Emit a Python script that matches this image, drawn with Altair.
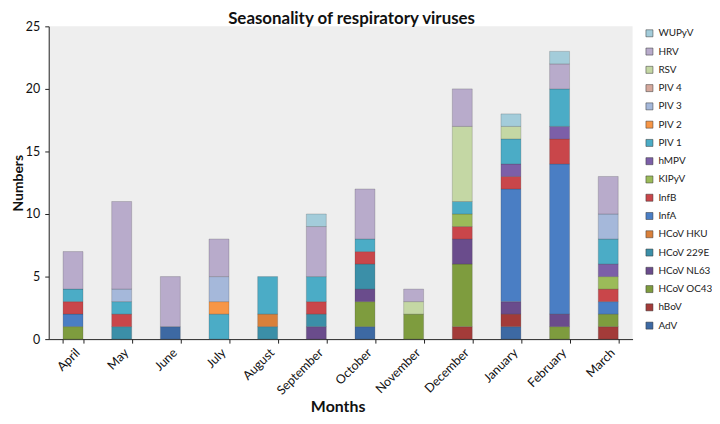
import altair as alt
import pandas as pd

months = ["April", "May", "June", "July", "August", "September", "October",
          "November", "December", "January", "February", "March"]
viruses = ["AdV", "hBoV", "HCoV OC43", "HCoV NL63", "HCoV 229E", "HCoV HKU",
           "InfA", "InfB", "KIPyV", "hMPV", "PIV 1", "PIV 2", "PIV 3", "PIV 4",
           "RSV", "HRV", "WUPyV"]
colors = ["#3D69A3", "#A33B39", "#7E9C3E", "#6A4C8C", "#3B8FA8", "#D9803A",
          "#4A7EC4", "#C9464A", "#9BBB59", "#7C5FA8", "#4BACC6", "#F79646",
          "#A5B8DA", "#D5A89C", "#C4D7A4", "#B8ABCB", "#A3CCDA"]

AdV = [0, 0, 1, 0, 0, 0, 1, 0, 0, 1, 0, 0]
hBoV = [0, 0, 0, 0, 0, 0, 0, 0, 1, 1, 0, 1]
HCoV_OC43 = [1, 0, 0, 0, 0, 0, 2, 2, 5, 0, 1, 1]
HCoV_NL63 = [0, 0, 0, 0, 0, 1, 1, 0, 2, 1, 1, 0]
HCoV_229E = [0, 1, 0, 0, 1, 1, 2, 0, 0, 0, 0, 0]
HCoV_HKU = [0, 0, 0, 0, 1, 0, 0, 0, 0, 0, 0, 0]
InfA = [1, 0, 0, 0, 0, 0, 0, 0, 0, 9, 12, 1]
InfB = [1, 1, 0, 0, 0, 1, 1, 0, 1, 1, 2, 1]
KIPyV = [0, 0, 0, 0, 0, 0, 0, 0, 1, 0, 0, 1]
hMPV = [0, 0, 0, 0, 0, 0, 0, 0, 0, 1, 1, 1]
PIV1 = [1, 1, 0, 2, 3, 2, 1, 0, 1, 2, 3, 2]
PIV2 = [0, 0, 0, 1, 0, 0, 0, 0, 0, 0, 0, 0]
PIV3 = [0, 1, 0, 2, 0, 0, 0, 0, 0, 0, 0, 2]
PIV4 = [0, 0, 0, 0, 0, 0, 0, 0, 0, 0, 0, 0]
RSV = [0, 0, 0, 0, 0, 0, 0, 1, 6, 1, 0, 0]
HRV = [3, 7, 4, 3, 0, 4, 4, 1, 3, 0, 2, 3]
WUPyV = [0, 0, 0, 0, 0, 1, 0, 0, 0, 1, 1, 0]

series = [AdV, hBoV, HCoV_OC43, HCoV_NL63, HCoV_229E, HCoV_HKU, InfA, InfB,
          KIPyV, hMPV, PIV1, PIV2, PIV3, PIV4, RSV, HRV, WUPyV]

rows = []
for vi, (name, vals) in enumerate(zip(viruses, series)):
    for m, v in zip(months, vals):
        if v > 0:
            rows.append({"Month": m, "Virus": name, "Count": v, "order": vi})
df = pd.DataFrame(rows)

FONT = "Lato"
W, H = 588, 315

chart = alt.Chart(df).mark_bar(
    stroke="#333333", strokeWidth=0.6, strokeOpacity=0.35
).encode(
    x=alt.X("Month:N", sort=months, scale=alt.Scale(paddingInner=0.59, paddingOuter=0.295),
            axis=alt.Axis(title="Months", labelAngle=-45, tickBand="extent",
                          labelFontSize=12.5, labelColor="#111", titleFontSize=16,
                          titleFontWeight="bold", titleColor="#111", domainColor="#222",
                          tickColor="#222", tickSize=4, labelPadding=3,
                          titleX=W / 2 - 3, titleY=73, titleBaseline="alphabetic")),
    y=alt.Y("sum(Count):Q", scale=alt.Scale(domain=[0, 25]),
            axis=alt.Axis(title="Numbers", values=[0, 5, 10, 15, 20, 25], grid=False,
                          labelFontSize=12.5, labelColor="#111", titleFontSize=14,
                          titleFontWeight="bold", titleColor="#111", domainColor="#222",
                          tickColor="#222", tickSize=4, labelPadding=5,
                          titleX=-30, titleY=H / 2, titleBaseline="middle")),
    color=alt.Color("Virus:N",
                    scale=alt.Scale(domain=viruses[::-1], range=colors[::-1]),
                    legend=alt.Legend(title=None, orient="none", legendX=600, legendY=2,
                                      symbolType="square", symbolSize=50,
                                      symbolStrokeWidth=0.5, labelFontSize=10,
                                      labelColor="#222", rowPadding=8.4, padding=0,
                                      labelOffset=4)),
    order=alt.Order("order:Q", sort="ascending"),
).properties(
    width=W, height=H,
    title=alt.TitleParams("Seasonality of respiratory viruses", fontSize=17,
                          fontWeight="bold", color="#111", offset=0, dy=8, dx=11,
                          font=FONT),
    autosize=alt.AutoSizeParams(type="none"),
    padding={"left": 41, "top": 17, "right": 80, "bottom": 84},
).configure(font=FONT).configure_view(fill="#EEEEEE", stroke=None)

chart.save("out.html", embed_options={"renderer": "svg", "actions": False})
